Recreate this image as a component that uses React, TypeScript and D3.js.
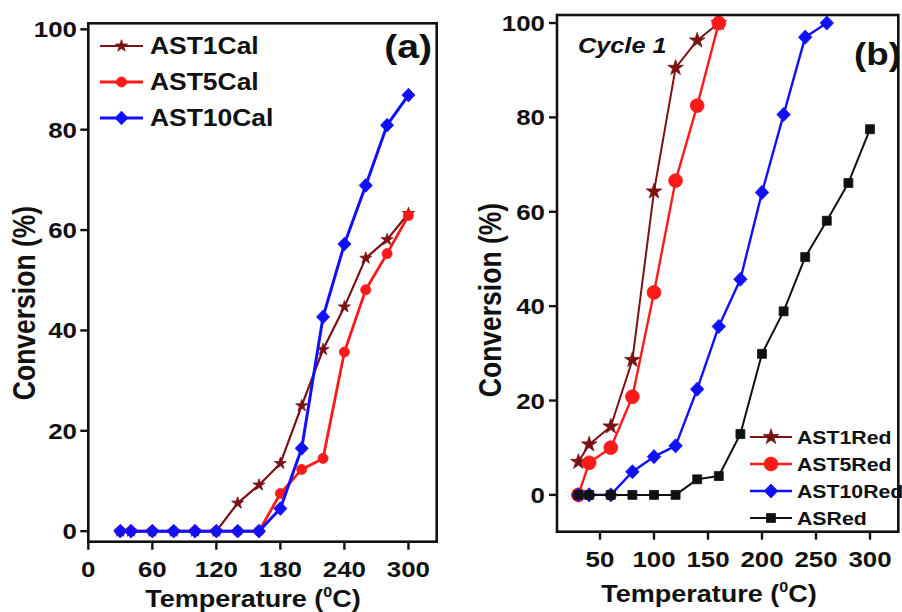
import React from "react";
import * as d3 from "d3";

// ---- Panel (a): calcined catalysts ----
const tempA = [30, 40, 60, 80, 100, 120, 140, 160, 180, 200, 220, 240, 260, 280, 300];
const ast1Cal = [0, 0, 0, 0, 0, 0, 5.6, 9.2, 13.5, 25, 36.2, 44.7, 54.4, 58.1, 63.3];
const ast5Cal = [0, 0, 0, 0, 0, 0, 0, 0, 7.5, 12.3, 14.5, 35.7, 48.1, 55.3, 62.9];
const ast10Cal = [0, 0, 0, 0, 0, 0, 0, 0, 4.5, 16.5, 42.7, 57.2, 68.9, 80.9, 86.9];

// ---- Panel (b): reduced catalysts, cycle 1 ----
const tempAST1Red = [30, 40, 60, 80, 100, 120, 140, 160];
const ast1Red = [7, 10.7, 14.5, 28.6, 64.3, 90.5, 96.3, 100];
const tempAST5Red = [30, 40, 60, 80, 100, 120, 140, 160];
const ast5Red = [0, 6.8, 10, 20.8, 42.9, 66.6, 82.5, 100];
const tempAST10Red = [30, 40, 60, 80, 100, 120, 140, 160, 180, 200, 220, 240, 260];
const ast10Red = [0, 0, 0, 4.9, 8.1, 10.4, 22.4, 35.7, 45.7, 64.1, 80.6, 97, 100];
const tempASRed = [30, 40, 60, 80, 100, 120, 140, 160, 180, 200, 220, 240, 260, 280, 300];
const asRed = [0, 0, 0, 0, 0, 0, 3.3, 4, 12.9, 29.9, 38.9, 50.4, 58.1, 66.1, 77.5];

const xTicksA = [0, 60, 120, 180, 240, 300];
const xTicksB = [50, 100, 150, 200, 250, 300];
const yTicks = [0, 20, 40, 60, 80, 100];

const MAROON = "#7a1214";
const RED = "#ff1a1a";
const BLUE = "#1010ff";
const BLACK = "#111";
const FONT = "'Liberation Sans', Arial, Helvetica, sans-serif";
const SX = 1.15; // horizontal glyph stretch

type Marker = "star" | "circle" | "diamond" | "square";

function markerPath(kind: Marker, s: number): string {
  if (kind === "star") return d3.symbol().type(d3.symbolStar).size(s)() as string;
  if (kind === "square") return d3.symbol().type(d3.symbolSquare).size(s)() as string;
  if (kind === "circle") return d3.symbol().type(d3.symbolCircle).size(s)() as string;
  const r = Math.sqrt(s) / 1.45;
  return `M0,${-r * 1.05}L${r},0L0,${r * 1.05}L${-r},0Z`;
}

function SText(props: {
  x: number; y: number; size: number; anchor?: string; rotate?: boolean;
  italic?: boolean; weight?: string; children: React.ReactNode;
}) {
  const { x, y, size, anchor = "start", rotate, italic, weight = "bold", children } = props;
  return (
    <text
      transform={`translate(${x},${y}) scale(${SX},1)${rotate ? " rotate(-90)" : ""}`}
      textAnchor={anchor}
      fontSize={size}
      fontFamily={FONT}
      fontWeight={weight}
      fontStyle={italic ? "italic" : "normal"}
      fill="#111"
    >
      {children}
    </text>
  );
}

type Series = {
  name: string; xs: number[]; ys: number[]; color: string; marker: Marker;
  msize: number; lw: number;
};

function SeriesMarks({ s, x, y }: { s: Series; x: d3.ScaleLinear<number, number>; y: d3.ScaleLinear<number, number> }) {
  const pts = s.xs.map((t, i) => [t, s.ys[i]] as [number, number]);
  const line = d3.line<[number, number]>().x((d) => x(d[0])).y((d) => y(d[1]));
  const p = markerPath(s.marker, s.msize);
  return (
    <g>
      <path d={line(pts) || ""} fill="none" stroke={s.color} strokeWidth={s.lw} strokeLinejoin="round" />
      {pts.map((d, i) => (
        <path key={i} d={p} transform={`translate(${x(d[0])},${y(d[1])})`} fill={s.color} stroke={s.color} strokeWidth={0.8} />
      ))}
    </g>
  );
}

function Legend({ items, x0, x1, tx, rows, size }: { items: Series[]; x0: number; x1: number; tx: number; rows: number[]; size: number }) {
  return (
    <g>
      {items.map((s, i) => (
        <g key={s.name}>
          <line x1={x0} x2={x1} y1={rows[i]} y2={rows[i]} stroke={s.color} strokeWidth={s.lw} />
          <path d={markerPath(s.marker, s.msize)} transform={`translate(${(x0 + x1) / 2},${rows[i]})`} fill={s.color} stroke={s.color} strokeWidth={0.8} />
          <SText x={tx} y={rows[i] + size * 0.36} size={size}>{s.name}</SText>
        </g>
      ))}
    </g>
  );
}

function Frame({ x, y }: { x: d3.ScaleLinear<number, number>; y: d3.ScaleLinear<number, number> }) {
  const [l, r] = x.range();
  const [b, t] = y.range();
  return <rect x={l} y={t} width={r - l} height={b - t} fill="none" stroke="#111" strokeWidth={2.6} />;
}

export default function App() {
  const xA = d3.scaleLinear().domain([0, 326.5]).range([88.3, 436.7]);
  const yA = d3.scaleLinear().domain([-2.1, 101.2]).range([541.7, 23.3]);
  const xB = d3.scaleLinear().domain([10.2, 326.2]).range([557, 898.3]);
  const yB = d3.scaleLinear().domain([-7.8, 101.7]).range([531.7, 15]);

  const seriesA: Series[] = [
    { name: "AST1Cal", xs: tempA, ys: ast1Cal, color: MAROON, marker: "star", msize: 45, lw: 2.2 },
    { name: "AST5Cal", xs: tempA, ys: ast5Cal, color: RED, marker: "circle", msize: 80, lw: 2.8 },
    { name: "AST10Cal", xs: tempA, ys: ast10Cal, color: BLUE, marker: "diamond", msize: 90, lw: 3 },
  ];
  const seriesB: Series[] = [
    { name: "AST1Red", xs: tempAST1Red, ys: ast1Red, color: MAROON, marker: "star", msize: 75, lw: 2 },
    { name: "AST5Red", xs: tempAST5Red, ys: ast5Red, color: RED, marker: "circle", msize: 150, lw: 2.4 },
    { name: "AST10Red", xs: tempAST10Red, ys: ast10Red, color: BLUE, marker: "diamond", msize: 95, lw: 2.4 },
    { name: "ASRed", xs: tempASRed, ys: asRed, color: BLACK, marker: "square", msize: 80, lw: 2 },
  ];

  const tickLen = 8;
  const [aL] = xA.range();
  const [aB] = yA.range();
  const [bL] = xB.range();
  const [bB] = yB.range();

  return (
    <svg width={902} height={612} style={{ position: "absolute", left: 0, top: 0, background: "#fff" }}>
      <rect width={902} height={612} fill="#fff" />

      {/* Panel (a) */}
      <g>
        {yTicks.map((v) => (
          <g key={v}>
            <line x1={aL - tickLen} x2={aL} y1={yA(v)} y2={yA(v)} stroke="#111" strokeWidth={2.4} />
            <SText x={77} y={yA(v) + 8} size={22.5} anchor="end">{v}</SText>
          </g>
        ))}
        {xTicksA.map((v) => (
          <g key={v}>
            <line x1={xA(v)} x2={xA(v)} y1={aB} y2={aB + tickLen} stroke="#111" strokeWidth={2.4} />
            <SText x={xA(v)} y={577} size={22.5} anchor="middle">{v}</SText>
          </g>
        ))}
        {seriesA.map((s) => <SeriesMarks key={s.name} s={s} x={xA} y={yA} />)}
        <Frame x={xA} y={yA} />
        <Legend items={seriesA} x0={100} x1={143} tx={150} rows={[46, 82, 118]} size={23} />
        <SText x={432} y={58} size={34} anchor="end">(a)</SText>
        <SText x={253} y={607} size={23.5} anchor="middle">
          Temperature (<tspan fontSize={14} dy={-10}>0</tspan><tspan dy={10}>C)</tspan>
        </SText>
        <SText x={35} y={303} size={26.5} anchor="middle" rotate>Conversion (%)</SText>
      </g>

      {/* Panel (b) */}
      <g>
        {yTicks.map((v) => (
          <g key={v}>
            <line x1={bL - tickLen} x2={bL} y1={yB(v)} y2={yB(v)} stroke="#111" strokeWidth={2.4} />
            <SText x={545} y={yB(v) + 8} size={22.5} anchor="end">{v}</SText>
          </g>
        ))}
        {xTicksB.map((v) => (
          <g key={v}>
            <line x1={xB(v)} x2={xB(v)} y1={bB} y2={bB + tickLen} stroke="#111" strokeWidth={2.4} />
            <SText x={xB(v)} y={567} size={22.5} anchor="middle">{v}</SText>
          </g>
        ))}
        {seriesB.map((s) => <SeriesMarks key={s.name} s={s} x={xB} y={yB} />)}
        <Frame x={xB} y={yB} />
        <Legend items={seriesB} x0={750} x1={792} tx={797} rows={[437, 464, 491, 518]} size={18.5} />
        <SText x={578} y={53} size={22} italic weight="bold">Cycle 1</SText>
        <SText x={901} y={65} size={32} anchor="end">(b)</SText>
        <SText x={709} y={602} size={23.5} anchor="middle">
          Temperature (<tspan fontSize={14} dy={-10}>0</tspan><tspan dy={10}>C)</tspan>
        </SText>
        <SText x={501} y={300} size={26.5} anchor="middle" rotate>Conversion (%)</SText>
      </g>
    </svg>
  );
}
